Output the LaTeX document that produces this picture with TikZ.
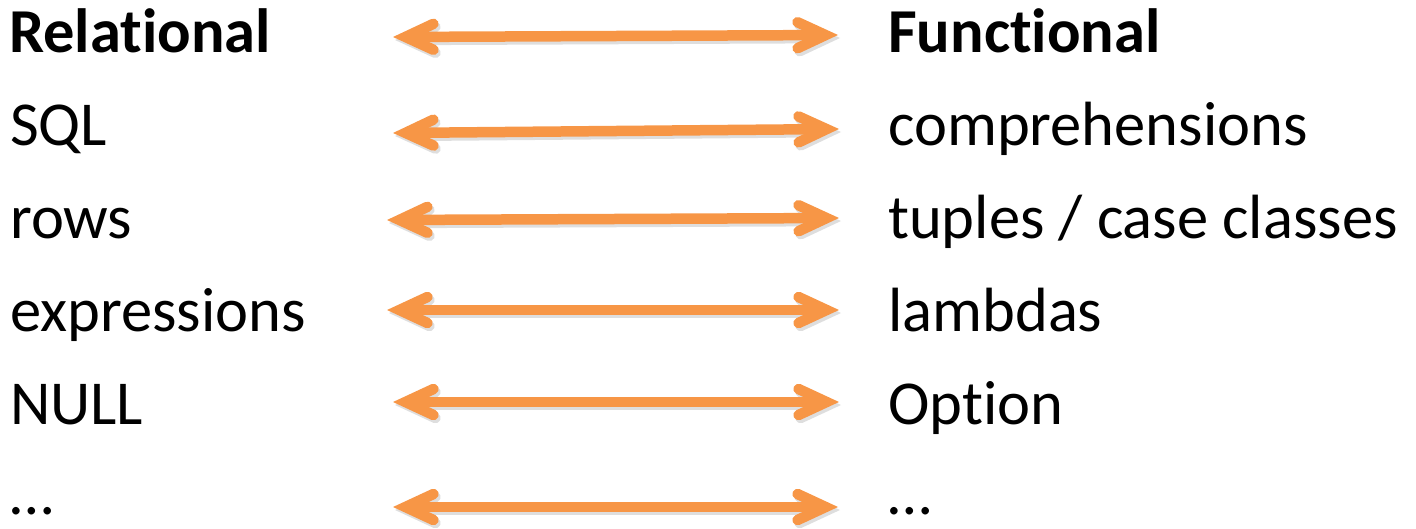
\documentclass[tikz,border=0pt]{standalone}
\usepackage{fontspec}
\setmainfont{Carlito}[Ligatures=NoCommon]
\usetikzlibrary{arrows.meta}
\definecolor{accentorange}{HTML}{F79646}
% a zero kern keeps "t" and "i" as separate glyphs
\newcommand\tisplit{\kern0pt }
\begin{document}
\begin{tikzpicture}[x=1pt,y=-1pt,
  term/.style={anchor=base west, inner sep=0pt, font=\fontsize{62.5}{70}\selectfont},
  headterm/.style={term, font=\fontsize{62.5}{70}\selectfont\bfseries},
  barb/.tip={Straight Barb[length=28pt,width=26pt,line cap=round,line join=miter]},
  pair/.style={draw=accentorange, line width=10.5pt, barb-barb},
  pairshadow/.style={draw=black!13, line width=10.5pt, barb-barb}]
\useasboundingbox (0,0) rectangle (1416,528);

% left column
\node[headterm] (L1) at (9,52)  {Relational};
\node[term]     (L2) at (10,145) {SQL};
\node[term]     (L3) at (10,238) {rows};
\node[term]     (L4) at (10,331) {expressions};
\node[term]     (L5) at (10,424) {NULL};
\node[term]     (L6) at (10,514) {…};

% right column
\node[headterm] (R1) at (888,52)  {Funct\tisplit ional};
\node[term]     (R2) at (888,145) {comprehensions};
\node[term]     (R3) at (888,238) {tuples / case classes};
\node[term]     (R4) at (888,331) {lambdas};
\node[term]     (R5) at (888,424) {Opt\tisplit ion};
\node[term]     (R6) at (888,514) {…};

% arrow end points
\coordinate (a1) at (393,37);  \coordinate (b1) at (838,35);
\coordinate (a2) at (393,133); \coordinate (b2) at (839,129);
\coordinate (a3) at (387,220); \coordinate (b3) at (839,218);
\coordinate (a4) at (387,310); \coordinate (b4) at (839,310);
\coordinate (a5) at (393,402); \coordinate (b5) at (839,402);
\coordinate (a6) at (393,507); \coordinate (b6) at (838,507);

% soft drop shadows, then the double arrows
\foreach \i in {1,...,6}{
  \draw[pairshadow] ([shift={(2,3)}]a\i) -- ([shift={(2,3)}]b\i);
}
\foreach \i in {1,...,6}{
  \draw[pair] (a\i) -- (b\i);
}
\end{tikzpicture}
\end{document}
